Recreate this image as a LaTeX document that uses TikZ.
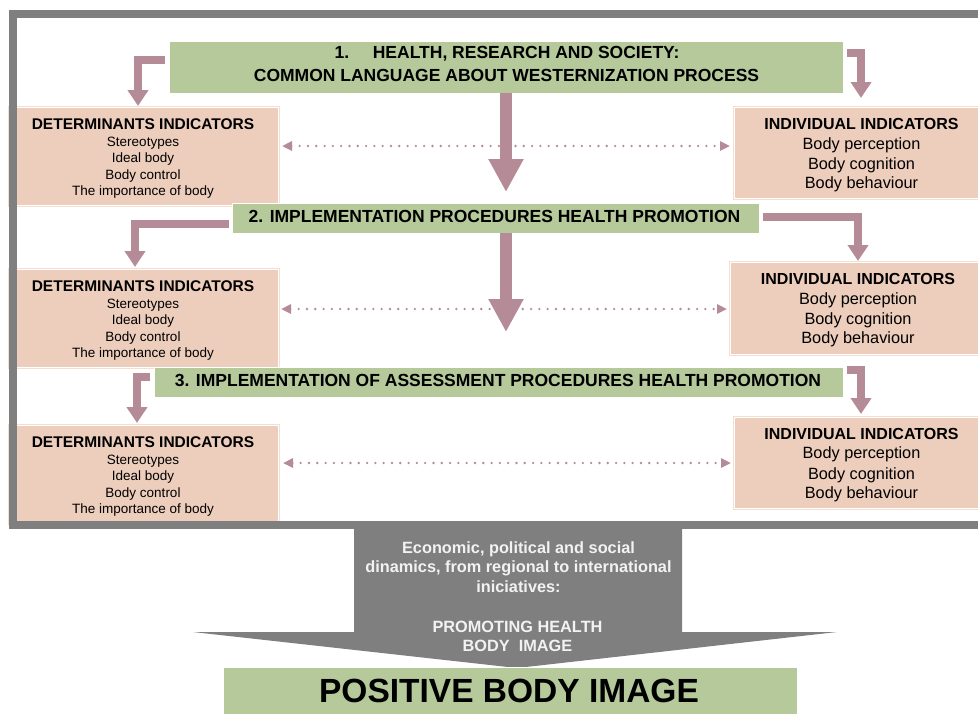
\documentclass[tikz,border=0pt]{standalone}
\usepackage{fontspec}
\setmainfont{Liberation Sans}
\usetikzlibrary{arrows.meta,calc}
\definecolor{framegray}{RGB}{127,127,127}
\definecolor{boxgreen}{RGB}{181,201,155}
\definecolor{peach}{RGB}{237,205,187}
\definecolor{peachline}{RGB}{244,222,208}
\definecolor{mauve}{RGB}{181,139,151}
\definecolor{lighttext}{RGB}{242,242,242}
\begin{document}
\begin{tikzpicture}[x=1pt,y=-1pt,
 greenbox/.style={fill=boxgreen,draw=white,line width=1pt,inner sep=0pt,outer sep=0pt},
 peachbox/.style={fill=peach,draw=white,line width=1pt,inner sep=0pt,outer sep=0pt,preaction={draw=peachline,line width=3pt}},
 txt/.style={anchor=base,inner sep=0pt,outer sep=0pt},
 gtitle/.style={txt,font=\fontsize{17.5}{20}\selectfont\bfseries},
 dtitle/.style={txt,font=\fontsize{15.5}{18}\selectfont\bfseries},
 dline/.style={txt,font=\fontsize{13.5}{16}\selectfont},
 ititle/.style={txt,font=\fontsize{16}{19}\selectfont\bfseries},
 iline/.style={txt,font=\fontsize{16.3}{19}\selectfont},
 atext/.style={txt,text=lighttext,font=\fontsize{16.3}{19}\selectfont\bfseries},
 elbow/.style={draw=mauve,line width=7.5pt,-{Triangle[width=20pt,length=16pt]}},
 bigarrow/.style={draw=mauve,line width=12pt,-{Triangle[width=33pt,length=33pt]}},
 dotarrow/.style={draw=mauve,line width=2.6pt,dash pattern=on 0pt off 8.3pt,line cap=round,{Triangle[width=9pt,length=10pt]}-{Triangle[width=9pt,length=10pt]}},
]
\useasboundingbox (0,0) rectangle (978,713);
\clip (0,0) rectangle (978,713);

% peach indicator boxes
\node[peachbox,minimum width=269,minimum height=98] (d1) at (143.5,156) {};
\node[peachbox,minimum width=269,minimum height=98] (d2) at (143.5,318) {};
\node[peachbox,minimum width=269,minimum height=98] (d3) at (143.5,474) {};
\node[peachbox,minimum width=256,minimum height=91] (i1) at (862,152.5) {};
\node[peachbox,minimum width=256,minimum height=92] (i2) at (858,308) {};
\node[peachbox,minimum width=256,minimum height=91] (i3) at (862,462.5) {};

% determinants texts
\node[dtitle] (d1t) at (143,129) {DETERMINANTS INDICATORS};
\node[dline] (d1a) at (143,146.7) {Stereotypes};
\node[dline] (d1b) at (143,162.7) {Ideal body};
\node[dline] (d1c) at (143,179.3) {Body control};
\node[dline] (d1d) at (143,195) {The importance of body};
\node[dtitle] (d2t) at (143,291) {DETERMINANTS INDICATORS};
\node[dline] (d2a) at (143,308.7) {Stereotypes};
\node[dline] (d2b) at (143,324.7) {Ideal body};
\node[dline] (d2c) at (143,341.3) {Body control};
\node[dline] (d2d) at (143,357) {The importance of body};
\node[dtitle] (d3t) at (143,447) {DETERMINANTS INDICATORS};
\node[dline] (d3a) at (143,464.7) {Stereotypes};
\node[dline] (d3b) at (143,480.7) {Ideal body};
\node[dline] (d3c) at (143,497.3) {Body control};
\node[dline] (d3d) at (143,513) {The importance of body};

% individual texts
\node[ititle] (i1t) at (861.5,129.8) {INDIVIDUAL INDICATORS};
\node[iline] (i1a) at (861.5,149.6) {Body perception};
\node[iline] (i1b) at (861.5,169.3) {Body cognition};
\node[iline] (i1c) at (861.5,188.8) {Body behaviour};
\node[ititle] (i2t) at (858,284.3) {INDIVIDUAL INDICATORS};
\node[iline] (i2a) at (858,304) {Body perception};
\node[iline] (i2b) at (858,324) {Body cognition};
\node[iline] (i2c) at (858,343.3) {Body behaviour};
\node[ititle] (i3t) at (861.5,439.3) {INDIVIDUAL INDICATORS};
\node[iline] (i3a) at (861.5,458.7) {Body perception};
\node[iline] (i3b) at (861.5,479) {Body cognition};
\node[iline] (i3c) at (861.5,498.3) {Body behaviour};

% outer frame
\draw[framegray,line width=8pt] (995,14) -- (13,14) -- (13,524.5) -- (995,524.5);

% big grey arrow
\fill[framegray] (354,521) -- (682,521) -- (682,632) -- (837,632) -- (517,668) -- (193,632) -- (354,632) -- cycle;
\node[atext] (a1) at (518.5,553) {Economic, political and social};
\node[atext] (a2) at (518.5,572) {dinamics, from regional to international};
\node[atext] (a3) at (518.5,592) {iniciatives:};
\node[atext] (a4) at (517.5,632) {PROMOTING HEALTH};
\node[atext] (a5) at (517.5,651) {BODY\ \ IMAGE};

% green boxes
\node[greenbox,minimum width=674,minimum height=52] (g1) at (506,67) {};
\node[greenbox,minimum width=527,minimum height=30] (g2) at (495.5,218) {};
\node[greenbox,minimum width=689,minimum height=30] (g3) at (498.5,382) {};
\node[greenbox,minimum width=574,minimum height=50] (g4) at (510,692) {};
\node[gtitle] (t1a) at (507,58) {1.\hspace{23.7pt}HEALTH, RESEARCH AND SOCIETY:};
\node[gtitle] (t1b) at (506.5,81) {COMMON LANGUAGE ABOUT WESTERNIZATION PROCESS};
\node[gtitle] (t2) at (494.5,222) {2. IMPLEMENTATION PROCEDURES HEALTH PROMOTION};
\node[gtitle] (t3) at (498,386) {3. IMPLEMENTATION OF ASSESSMENT PROCEDURES HEALTH PROMOTION};
\node[txt,font=\fontsize{33.5}{40}\selectfont\bfseries] (t4) at (509,702) {POSITIVE BODY IMAGE};

% dotted double arrows
\draw[dotarrow] ([shift={(4,-10)}]d1.east) -- ([shift={(-4,-6.5)}]i1.west);
\draw[dotarrow] ([shift={(3,-9)}]d2.east) -- ([shift={(-3,1)}]i2.west);
\draw[dotarrow] ([shift={(5,-11)}]d3.east) -- ([shift={(-3,0.5)}]i3.west);

% central arrows
\draw[bigarrow] (g1.south) -- ($(g1.south)+(0,99)$);
\draw[bigarrow] (g2.south -| g1.south) -- ++(0,99);

% elbow arrows
\draw[elbow] ($(g1.north west)+(-4,19)$) -| ($(d1.north)+(-5.5,-1)$);
\draw[elbow] ($(g1.north east)+(4,12)$) -| ($(i1.north)+(-1,-9)$);
\draw[elbow] ($(g2.north west)+(-3,21)$) -| ($(d2.north)+(-8.5,-2)$);
\draw[elbow] ($(g2.north east)+(4,14)$) -| ($(i2.north)+(0,-1)$);
\draw[elbow] ($(g3.north west)+(-4,10)$) -| ($(d3.north)+(-6.5,-2)$);
\draw[elbow] ($(g3.north east)+(4,3)$) -| ($(i3.north)+(-1,-3)$);
\end{tikzpicture}
\end{document}
